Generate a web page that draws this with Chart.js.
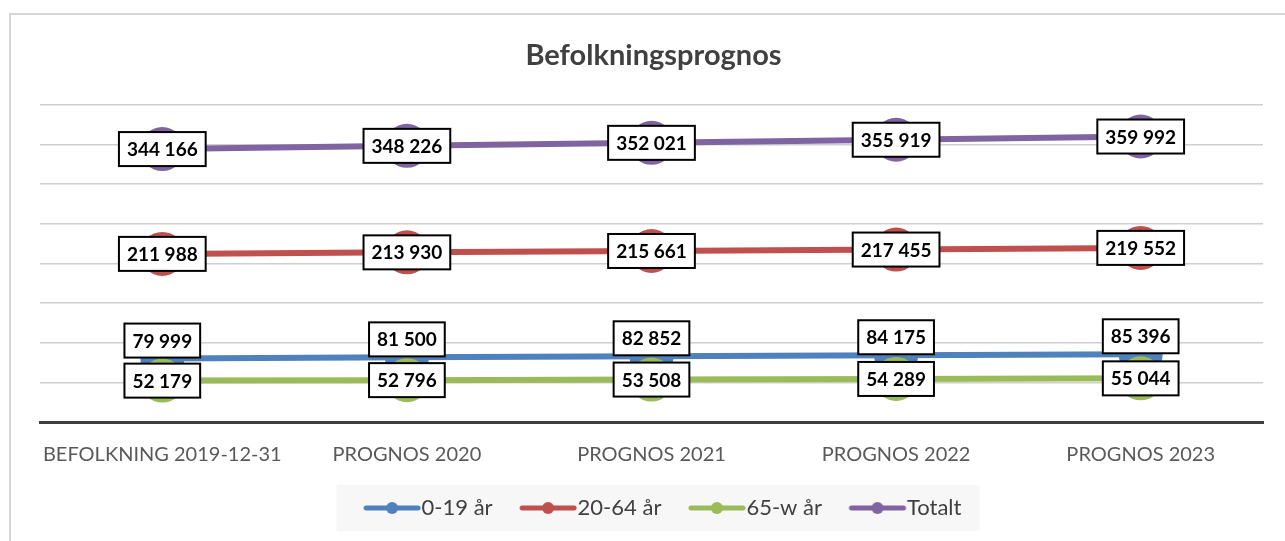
<!DOCTYPE html>
<html>
<head>
<meta charset="utf-8">
<script src="https://cdn.jsdelivr.net/npm/chart.js@4.4.1/dist/chart.umd.min.js"></script>
<style>
  html, body { margin: 0; padding: 0; background: #fff; }
  #wrap { width: 1285px; height: 541px; }
</style>
</head>
<body>
<div id="wrap"><canvas id="chart-canvas" width="1285" height="541"></canvas></div>
<script>
/* -------------  DATA  ------------- */
const categories = ['BEFOLKNING 2019-12-31', 'PROGNOS 2020', 'PROGNOS 2021', 'PROGNOS 2022', 'PROGNOS 2023'];
const seriesNames = ['0-19 år', '20-64 år', '65-w år', 'Totalt'];
const age0to19 = [79999, 81500, 82852, 84175, 85396];
const age20to64 = [211988, 213930, 215661, 217455, 219552];
const age65plus = [52179, 52796, 53508, 54289, 55044];
const totalt = [344166, 348226, 352021, 355919, 359992];
const yTicks = { min: 0, max: 400000, step: 50000 };

const colors = ['#4F81BD', '#C0504D', '#9BBB59', '#8064A2'];
const FONT = 'Lato, "Open Sans", sans-serif';

/**
 * Formats a number with space as thousands separator (344 166).
 */
function formatNumber(v) {
  return String(v).replace(/\B(?=(\d{3})+(?!\d))/g, ' ');
}

/**
 * Builds the legend symbol: a thick line with a dot in the middle.
 * The image is wider than the symbol so that the symbol lands right before the text.
 */
function makeLegendSymbol(color) {
  const c = document.createElement('canvas');
  c.width = 90;
  c.height = 14;
  const ctx = c.getContext('2d');
  ctx.strokeStyle = color;
  ctx.lineWidth = 5;
  ctx.lineCap = 'round';
  ctx.beginPath();
  ctx.moveTo(33, 7);
  ctx.lineTo(85, 7);
  ctx.stroke();
  ctx.fillStyle = color;
  ctx.beginPath();
  ctx.arc(59, 7, 6, 0, Math.PI * 2);
  ctx.fill();
  return c;
}
const legendSymbols = colors.map(makeLegendSymbol);

/* -------------  PLUGINS  ------------- */

// light frame around the whole chart and grey box behind the legend
const framePlugin = {
  id: 'frame',
  beforeDraw(chart) {
    const ctx = chart.ctx;
    ctx.save();
    ctx.strokeStyle = '#c9c9c9';
    ctx.lineWidth = 1.5;
    ctx.strokeRect(10, 14, 1300, 560);

    const boxes = chart.legend.legendHitBoxes;
    if (boxes && boxes.length) {
      const left = Math.min(...boxes.map((b) => b.left)) - 9;
      const right = Math.max(...boxes.map((b) => b.left + b.width)) + 18;
      const mid = boxes[0].top + boxes[0].height / 2;
      ctx.fillStyle = '#f7f7f7';
      ctx.fillRect(left, mid - 23, right - left, 46);
    }
    ctx.restore();
  },
};

// boxed value labels on every point
const valueLabelPlugin = {
  id: 'valueLabels',
  afterDatasetsDraw(chart) {
    const ctx = chart.ctx;
    ctx.save();
    ctx.font = 'bold 19px ' + FONT;
    ctx.textAlign = 'center';
    ctx.textBaseline = 'middle';
    chart.data.datasets.forEach((ds, i) => {
      const meta = chart.getDatasetMeta(i);
      meta.data.forEach((pt, j) => {
        const text = formatNumber(ds.data[j]);
        const w = ctx.measureText(text).width + 16;
        const h = 34;
        let cy = pt.y;
        if (i === 0) cy = pt.y - 1 - h / 2; // 0-19 sits above its point
        const x = pt.x - w / 2;
        const y = cy - h / 2;
        ctx.fillStyle = '#fff';
        ctx.fillRect(x, y, w, h);
        ctx.strokeStyle = '#000';
        ctx.lineWidth = 2;
        ctx.strokeRect(x, y, w, h);
        ctx.fillStyle = '#000';
        ctx.fillText(text, pt.x, cy + 1);
      });
    });
    ctx.restore();
  },
};

/* -------------  CHART  ------------- */

function makeDataset(label, data, color, order) {
  return {
    label: label,
    data: data,
    borderColor: color,
    backgroundColor: color,
    borderWidth: 6,
    pointRadius: 22,
    pointHoverRadius: 22,
    pointBorderWidth: 0,
    pointBackgroundColor: color,
    tension: 0,
    order: order,
  };
}

const config = {
  type: 'line',
  data: {
    labels: categories,
    datasets: [
      makeDataset(seriesNames[0], age0to19, colors[0], 3),
      makeDataset(seriesNames[1], age20to64, colors[1], 2),
      makeDataset(seriesNames[2], age65plus, colors[2], 1),
      makeDataset(seriesNames[3], totalt, colors[3], 0),
    ],
  },
  options: {
    responsive: false,
    animation: false,
    devicePixelRatio: 1,
    layout: { padding: { left: 40, right: 18, top: 0, bottom: 12 } },
    scales: {
      x: {
        offset: true,
        grid: { display: false, drawTicks: false },
        border: { display: true, color: '#404040', width: 3 },
        ticks: { color: '#595959', font: { family: FONT, size: 20 }, padding: 21, maxRotation: 0 },
      },
      y: {
        min: yTicks.min,
        max: yTicks.max,
        ticks: { display: false, stepSize: yTicks.step },
        grid: { color: '#cfcfcf', lineWidth: 1.5, drawTicks: false },
        border: { display: false },
      },
    },
    plugins: {
      title: {
        display: true,
        text: 'Befolkningsprognos',
        color: '#404040',
        font: { family: FONT, size: 29, weight: 'bold' },
        padding: { top: 38, bottom: 32 },
      },
      legend: {
        position: 'bottom',
        labels: {
          usePointStyle: true,
          pointStyleWidth: 65,
          padding: 9,
          color: '#404040',
          font: { family: FONT, size: 22 },
          generateLabels(chart) {
            const items = Chart.defaults.plugins.legend.labels.generateLabels(chart);
            items.forEach((it) => {
              it.pointStyle = legendSymbols[it.datasetIndex];
            });
            return items;
          },
          sort: (a, b) => a.datasetIndex - b.datasetIndex,
        },
      },
      tooltip: { enabled: false },
    },
  },
  plugins: [framePlugin, valueLabelPlugin],
};

const populationChart = new Chart(document.getElementById('chart-canvas'), config);
</script>
</body>
</html>
